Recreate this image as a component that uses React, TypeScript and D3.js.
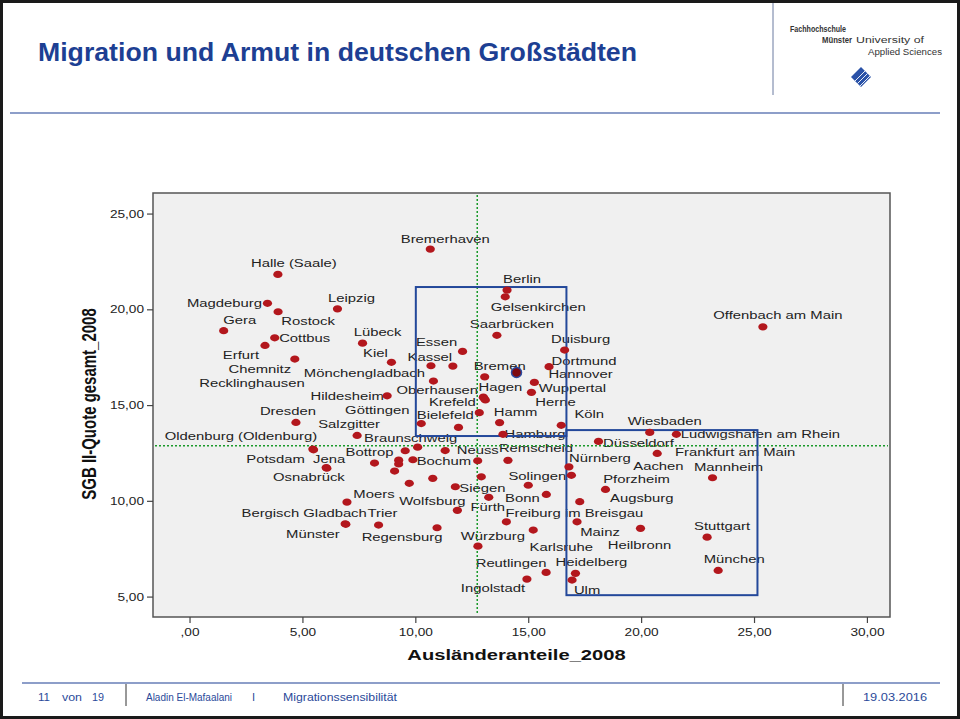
import React from "react";
import * as d3 from "d3";

// Städte mit Beschriftung
const cityNames = [
  "Bremerhaven", "Halle (Saale)", "Magdeburg", "Rostock", "Leipzig", "Gera", "Cottbus", "Erfurt",
  "Chemnitz", "Lübeck", "Kiel", "Recklinghausen", "Kassel", "Essen", "Mönchengladbach", "Hildesheim",
  "Hagen", "Oberhausen", "Krefeld", "Bielefeld", "Göttingen", "Dresden", "Salzgitter", "Braunschweig",
  "Hamm", "Bottrop", "Oldenburg (Oldenburg)", "Potsdam", "Jena", "Osnabrück", "Moers", "Bergisch Gladbach",
  "Münster", "Trier", "Regensburg", "Wolfsburg", "Bochum", "Neuss", "Remscheid", "Hamburg",
  "Köln", "Herne", "Wuppertal", "Dortmund", "Hannover", "Bremen", "Berlin", "Gelsenkirchen",
  "Saarbrücken", "Duisburg", "Düsseldorf", "Nürnberg", "Aachen", "Solingen", "Siegen", "Bonn",
  "Fürth", "Pforzheim", "Augsburg", "Freiburg im Breisgau", "Mainz", "Karlsruhe", "Heilbronn", "Würzburg",
  "Reutlingen", "Heidelberg", "Ulm", "Ingolstadt", "Stuttgart", "München", "Mannheim", "Wiesbaden",
  "Ludwigshafen am Rhein", "Frankfurt am Main", "Offenbach am Main",
];

// Ausländeranteile_2008
const auslaenderanteil = [
  10.64, 3.89, 3.43, 3.90, 6.53, 1.49, 3.75, 3.32,
  4.64, 7.64, 8.92, 10.67, 11.64, 12.07, 10.78, 8.73,
  12.99, 13.03, 13.08, 12.81, 10.24, 4.69, 7.40, 10.08,
  13.71, 8.17, 5.44, 5.47, 6.03, 6.06, 6.95, 6.87,
  6.90, 8.35, 10.94, 11.84, 9.87, 12.74, 14.08, 13.86,
  16.44, 15.12, 15.25, 15.90, 14.46, 13.05, 14.04, 13.96,
  13.59, 16.59, 18.09, 16.78, 16.89, 12.90, 11.75, 15.78,
  13.23, 18.40, 17.26, 14.01, 17.14, 15.20, 19.95, 12.75,
  15.77, 17.07, 16.92, 14.92, 22.90, 23.39, 23.14, 20.36,
  21.54, 20.69, 25.37,
];

// SGB II-Quote gesamt_2008
const sgbQuote = [
  23.17, 21.85, 20.34, 19.90, 20.05, 18.91, 18.54, 18.14,
  17.43, 18.26, 17.26, 17.08, 17.06, 17.83, 16.28, 15.51,
  15.44, 15.37, 15.29, 14.63, 14.06, 14.12, 13.44, 12.83,
  14.11, 12.00, 12.73, 12.69, 11.76, 11.73, 9.96, 8.83,
  8.80, 8.76, 8.62, 9.53, 12.17, 12.12, 12.14, 13.50,
  13.97, 15.69, 16.21, 17.03, 16.73, 16.50, 21.03, 20.68,
  18.67, 17.90, 13.13, 11.80, 11.36, 11.28, 10.76, 10.36,
  10.21, 10.62, 9.98, 8.93, 8.93, 8.50, 8.59, 7.66,
  6.29, 6.24, 5.89, 5.94, 8.13, 6.39, 11.23, 13.60,
  13.50, 12.50, 19.11,
];

// Punkte ohne Beschriftung
const otherX = [11.89, 9.24, 9.24, 9.53, 11.30, 9.06, 9.71, 10.75, 14.98];
const otherY = [13.86, 12.15, 11.95, 12.64, 12.65, 11.58, 10.94, 11.20, 10.84];

const highlighted = "Hannover";

// Lage der Beschriftung relativ zum Punkt (px)
const labelOffsets: Record<string, [number, number]> = {
  "Bremerhaven": [15, -10], "Halle (Saale)": [16, -11], "Magdeburg": [-43, 0], "Rostock": [30, 9],
  "Leipzig": [14, -11], "Gera": [16, -11], "Cottbus": [30, 0], "Erfurt": [-24, 10],
  "Chemnitz": [-35, 10], "Lübeck": [15, -11], "Kiel": [-16, -9], "Recklinghausen": [-179, 17],
  "Kassel": [-23, -9], "Essen": [-26, -9], "Mönchengladbach": [-69, -8], "Hildesheim": [-40, 0],
  "Hagen": [17, -10], "Oberhausen": [-47, -8], "Krefeld": [-33, 2], "Bielefeld": [-34, 2],
  "Göttingen": [-44, -13], "Dresden": [-8, -11], "Salzgitter": [-8, -11], "Braunschweig": [-7, -9],
  "Hamm": [16, -10], "Bottrop": [-5, -11], "Oldenburg (Oldenburg)": [-72, -13], "Potsdam": [-38, 9],
  "Jena": [3, -8], "Osnabrück": [-18, 9], "Moers": [27, -8], "Bergisch Gladbach": [-41, -11],
  "Münster": [-33, 10], "Trier": [4, -12], "Regensburg": [-35, 9], "Wolfsburg": [-25, -9],
  "Bochum": [31, 1], "Neuss": [0, -11], "Remscheid": [28, -12], "Hamburg": [32, 0],
  "Köln": [28, -11], "Herne": [24, 10], "Wuppertal": [38, 6], "Dortmund": [35, -6],
  "Hannover": [64, 2], "Bremen": [15, -11], "Berlin": [15, -11], "Gelsenkirchen": [33, 10],
  "Saarbrücken": [15, -11], "Duisburg": [16, -11], "Düsseldorf": [40, 2], "Nürnberg": [31, -9],
  "Aachen": [87, -9], "Solingen": [56, -1], "Siegen": [27, 1], "Bonn": [-24, 4],
  "Fürth": [-1, 10], "Pforzheim": [31, -10], "Augsburg": [62, -4], "Freiburg im Breisgau": [68, -9],
  "Mainz": [23, 10], "Karlsruhe": [28, 17], "Heilbronn": [-1, 17], "Würzburg": [15, -10],
  "Reutlingen": [-35, -9], "Heidelberg": [16, -11], "Ulm": [15, 10], "Ingolstadt": [-34, 9],
  "Stuttgart": [15, -11], "München": [16, -11], "Mannheim": [16, -11], "Wiesbaden": [15, -11],
  "Ludwigshafen am Rhein": [84, 0], "Frankfurt am Main": [78, -1], "Offenbach am Main": [15, -12],
};

const xTicks = [0, 5, 10, 15, 20, 25, 30];
const yTicks = [5, 10, 15, 20, 25];

// Mittelwerte (grüne Linien) und Quadranten-Kästen
const meanX = 12.72;
const meanY = 12.9;
const boxes = [
  { x0: 10.0, x1: 16.67, y0: 13.41, y1: 21.19 },
  { x0: 16.67, x1: 25.13, y0: 5.1, y1: 13.72 },
];

const font = "Arial, 'Liberation Sans', sans-serif";
const blue = "#1d3f93";
const stretch = 1.35;

const fmt = (v: number) => (v === 0 ? ",00" : d3.format(".2f")(v).replace(".", ","));

export default function App() {
  const left = 153, right = 890, top = 193, bottom = 617;
  const x = d3.scaleLinear().domain([-1.64, 31.0]).range([left, right]);
  const y = d3.scaleLinear().domain([3.96, 26.1]).range([bottom, top]);

  const cities = cityNames.map((name, i) => ({ name, xv: auslaenderanteil[i], yv: sgbQuote[i] }));
  const others = otherX.map((v, i) => ({ xv: v, yv: otherY[i] }));

  return (
    <svg width={960} height={719} style={{ position: "absolute", left: 0, top: 0, display: "block" }}>
      <rect x={0} y={0} width={960} height={719} fill="#fff" />
      <rect x={1.5} y={1.5} width={957} height={716} fill="none" stroke="#1a1a1a" strokeWidth={3} />

      {/* Kopf */}
      <text x={38} y={61} fontFamily={font} fontWeight="bold" fontSize={25} fill={blue}
        textLength={599} lengthAdjust="spacingAndGlyphs">
        Migration und Armut in deutschen Großstädten
      </text>
      <line x1={773} x2={773} y1={3} y2={95} stroke="#6a7aa0" strokeWidth={1} />
      <g fontFamily={font} fontSize={8.5} fill="#333">
        <text x={790} y={32} fontWeight="bold" textLength={56} lengthAdjust="spacingAndGlyphs">Fachhochschule</text>
        <text x={822} y={43} fontWeight="bold" textLength={30} lengthAdjust="spacingAndGlyphs">Münster</text>
        <text x={856} y={43} textLength={68} lengthAdjust="spacingAndGlyphs">University of</text>
        <text x={868} y={55} textLength={74} lengthAdjust="spacingAndGlyphs">Applied Sciences</text>
      </g>
      <defs>
        <clipPath id="logoClip">
          <polygon points="861,67 871,77 861,87 851,77" />
        </clipPath>
      </defs>
      <g clipPath="url(#logoClip)">
        <rect x={849} y={65} width={24} height={24} fill="#2a52a8" />
        {[0, 1, 2, 3].map((k) => (
          <line key={k} x1={849 + k * 5} y1={87} x2={869 + k * 5} y2={67} stroke="#fff" strokeWidth={0.9} />
        ))}
      </g>
      <line x1={10} x2={940} y1={113} y2={113} stroke={blue} strokeWidth={1.2} />

      {/* Diagramm */}
      <rect x={left} y={top} width={right - left} height={bottom - top} fill="#f0f0f0" stroke="#555" strokeWidth={1.5} />

      {yTicks.map((t) => (
        <g key={t}>
          <line x1={left - 6} x2={left} y1={y(t)} y2={y(t)} stroke="#444" strokeWidth={1.2} />
          <text transform={`translate(${left - 9},${y(t)}) scale(1.3,1)`} textAnchor="end" dy="0.35em"
            fontFamily={font} fontSize={10.5} fill="#222">{fmt(t)}</text>
        </g>
      ))}
      {xTicks.map((t) => (
        <g key={t}>
          <line x1={x(t)} x2={x(t)} y1={bottom} y2={bottom + 6} stroke="#444" strokeWidth={1.2} />
          <text transform={`translate(${x(t)},${bottom + 15}) scale(1.3,1)`} textAnchor="middle" dy="0.35em"
            fontFamily={font} fontSize={10.5} fill="#222">{fmt(t)}</text>
        </g>
      ))}

      <text transform={`translate(${(left + right) / 2 - 5},${655}) scale(1.3,1)`} textAnchor="middle" dy="0.35em"
        fontFamily={font} fontWeight="bold" fontSize={15.5} fill="#111">Ausländeranteile_2008</text>
      <text transform={`translate(89,${(top + bottom) / 2 - 1}) scale(1.3,1) rotate(-90)`} textAnchor="middle" dy="0.35em"
        fontFamily={font} fontWeight="bold" fontSize={15} fill="#111">SGB II-Quote gesamt_2008</text>

      {/* Beschriftungen */}
      <g fontFamily={font} fontSize={11} fill="#222">
        {cities.map((c) => {
          const [dx, dy] = labelOffsets[c.name] || [15, -11];
          return (
            <text key={c.name} transform={`translate(${x(c.xv) + dx},${y(c.yv) + dy}) scale(${stretch},1)`}
              textAnchor="middle" dy="0.35em">{c.name}</text>
          );
        })}
      </g>

      {/* Mittelwertlinien */}
      <line x1={x(meanX)} x2={x(meanX)} y1={top + 2} y2={bottom - 2} stroke="#1a9a2a" strokeWidth={1.5} strokeDasharray="2,2" />
      <line x1={left + 2} x2={right - 2} y1={y(meanY)} y2={y(meanY)} stroke="#1a9a2a" strokeWidth={1.5} strokeDasharray="2,2" />

      {boxes.map((b, i) => (
        <rect key={i} x={x(b.x0)} y={y(b.y1)} width={x(b.x1) - x(b.x0)} height={y(b.y0) - y(b.y1)}
          fill="none" stroke="#23489a" strokeWidth={2} />
      ))}

      {/* Punkte */}
      {others.map((p, i) => (
        <ellipse key={i} cx={x(p.xv)} cy={y(p.yv)} rx={4.6} ry={3.6} fill="#b3171d" />
      ))}
      {cities.map((c) => (
        c.name === highlighted ? (
          <circle key={c.name} cx={x(c.xv)} cy={y(c.yv)} r={5} fill="#7d0a10" stroke="#2a4aa0" strokeWidth={1.5} />
        ) : (
          <ellipse key={c.name} cx={x(c.xv)} cy={y(c.yv)} rx={4.6} ry={3.6} fill="#b3171d" />
        )
      ))}

      {/* Fuß */}
      <line x1={22} x2={940} y1={683} y2={683} stroke={blue} strokeWidth={1.2} />
      <line x1={126} x2={126} y1={684} y2={706} stroke="#333" strokeWidth={1} />
      <line x1={843} x2={843} y1={684} y2={706} stroke="#333" strokeWidth={1} />
      <g fontFamily={font} fontSize={11} fill="#2b4a9a">
        <text x={38} y={701} textLength={12} lengthAdjust="spacingAndGlyphs">11</text>
        <text x={62} y={701} textLength={20} lengthAdjust="spacingAndGlyphs">von</text>
        <text x={92} y={701} textLength={12} lengthAdjust="spacingAndGlyphs">19</text>
        <text x={146} y={701} textLength={86} lengthAdjust="spacingAndGlyphs">Aladin El-Mafaalani</text>
        <text x={252} y={701}>I</text>
        <text x={283} y={701} textLength={114} lengthAdjust="spacingAndGlyphs">Migrationssensibilität</text>
        <text x={863} y={701} textLength={64} lengthAdjust="spacingAndGlyphs">19.03.2016</text>
      </g>
    </svg>
  );
}
